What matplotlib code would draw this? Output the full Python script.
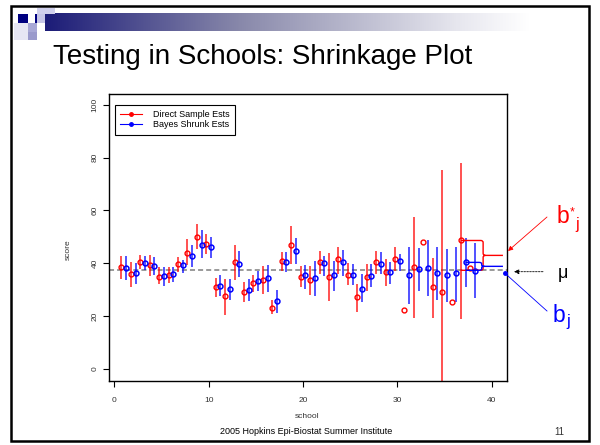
import matplotlib
matplotlib.use("Agg")
import matplotlib.pyplot as plt
import numpy as np
from matplotlib.patches import Rectangle, PathPatch
from matplotlib.path import Path
from matplotlib.lines import Line2D
from matplotlib.colors import LinearSegmentedColormap

plt.rcParams["font.family"] = ["Liberation Sans", "DejaVu Sans"]

# ---- data ----
school = np.arange(1, 39)
direct_est = [38.7, 36.0, 40.3, 39.3, 34.9, 35.7, 39.7, 43.9, 50.1, 47.3,
              30.8, 27.4, 40.3, 28.9, 32.6, 33.7, 23.2, 40.8, 46.7, 34.7,
              33.6, 40.6, 34.9, 41.5, 35.6, 27.2, 34.6, 40.3, 36.5, 41.5,
              22.3, 38.4, 47.9, 30.8, 28.9, 25.3, 48.6, 38.0]
direct_lo = [34.0, 31.0, 37.8, 35.2, 32.1, 32.3, 36.5, 39.3, 45.4, 43.5,
             27.2, 20.2, 33.7, 25.4, 29.1, 28.3, 20.6, 37.1, 39.7, 30.8,
             28.0, 35.9, 25.5, 35.9, 31.7, 21.6, 29.5, 35.9, 31.4, 37.1,
             np.nan, 19.1, np.nan, 19.4, -17.4, np.nan, 18.7, np.nan]
direct_hi = [42.9, 40.3, 43.0, 43.1, 38.4, 38.4, 42.5, 49.0, 54.9, 50.9,
             34.4, 34.0, 46.9, 32.7, 35.5, 39.0, 26.0, 44.1, 54.0, 38.8,
             39.0, 44.8, 43.9, 46.0, 39.9, 32.1, 39.7, 44.8, 41.6, 46.0,
             np.nan, 57.4, np.nan, 42.0, 75.2, np.nan, 78.0, np.nan]
bayes_est = [38.3, 36.1, 40.2, 39.0, 35.1, 35.9, 39.4, 42.7, 47.0, 46.0,
             31.5, 30.2, 39.5, 30.0, 33.1, 34.4, 25.5, 40.3, 44.6, 35.4,
             34.2, 40.2, 35.5, 40.3, 35.6, 30.4, 35.1, 39.8, 36.8, 41.0,
             35.6, 37.8, 38.2, 36.1, 35.6, 36.1, 40.3, 36.9]
bayes_lo = [33.6, 32.1, 37.5, 35.5, 31.4, 33.0, 36.3, 38.4, 42.0, 41.8,
            27.6, 26.0, 34.9, 25.7, 29.5, 29.1, 21.3, 36.5, 39.7, 30.4,
            27.6, 35.2, 29.5, 35.2, 31.8, 25.1, 30.8, 35.9, 32.1, 37.1,
            24.7, 29.3, 27.5, 26.0, 25.1, 25.4, 30.8, 26.7]
bayes_hi = [42.9, 39.9, 42.6, 42.2, 38.4, 38.4, 41.2, 47.0, 52.4, 49.8,
            35.5, 34.0, 44.5, 34.0, 37.1, 39.3, 29.8, 44.1, 49.6, 39.4,
            41.0, 42.9, 41.0, 45.1, 39.7, 35.9, 39.7, 44.1, 40.3, 43.5,
            46.0, 45.8, 48.8, 46.0, 45.4, 46.3, 49.6, 47.5]
grand_mean = 37.3
series_labels = ["Direct Sample Ests", "Bayes Shrunk Ests"]

W, H = 600, 445


def fx(x):
    return x / W


def fy(y):
    return 1 - y / H


fig = plt.figure(figsize=(6, 4.45), dpi=100)

# ---- slide decoration ----
deco = fig.add_axes([0, 0, 1, 1], zorder=-5)
grad = LinearSegmentedColormap.from_list(
    "g", [(0, "#1c1c78"), (0.4, "#8888aa"), (0.85, "#e6e6ee"), (1, "#ffffff")])
deco.imshow(np.linspace(0, 1, 256)[None, :], cmap=grad, aspect="auto",
            extent=(45, 530, 31, 13))
for (x0, y0, w, h, c) in [(14, 23, 14, 17, "#e6e6f4"), (37, 8, 18, 6, "#d0d0ec"),
                          (37, 14, 8, 9, "#c6c6e6"), (28, 23, 9, 9, "#a8a8d6"),
                          (28, 32, 9, 8, "#9a9acc"), (18, 14, 10, 9, "#000080"),
                          (35, 14, 2, 9, "#000080")]:
    deco.add_patch(Rectangle((x0, y0), w, h, color=c, lw=0))
deco.add_patch(Rectangle((11.3, 6.2), 578, 435, fill=False, ec="black", lw=1.8))
deco.set_xlim(0, W)
deco.set_ylim(H, 0)
deco.axis("off")

fig.text(fx(53), fy(64), "Testing in Schools: Shrinkage Plot", fontsize=20,
         ha="left", va="baseline")
fig.text(fx(306), fy(432), "2005 Hopkins Epi-Biostat Summer Institute",
         fontsize=6.5, ha="center", va="center")
fig.text(fx(559), fy(432), "11", fontsize=7, ha="center", va="center", color="#333333")

# ---- the plot ----
ax = fig.add_axes([fx(109.2), fy(380.6), (506.7 - 109.2) / W, (380.6 - 94.3) / H])
x_red = school - 0.25
x_blue = school + 0.25

ax.axhline(grand_mean, color="#7f7f7f", lw=1.1, ls=(0, (3.3, 2)), zorder=1)
ax.vlines(x_red, direct_lo, direct_hi, color="#ff0000", lw=1.2, alpha=0.8, zorder=2)
ax.vlines(x_blue, bayes_lo, bayes_hi, color="#0000ff", lw=1.2, alpha=0.8, zorder=2)
ax.plot(x_red, direct_est, "o", mfc="none", mec="#ff0000", ms=3.5, mew=1.0, zorder=3)
ax.plot(x_blue, bayes_est, "o", mfc="none", mec="#0000ff", ms=3.5, mew=1.1, zorder=3)


def brace(x0, xv, xt, ytop, ybot, rx, ry, color):
    ymid = (ytop + ybot) / 2
    verts = [(x0, ytop), (xv - rx, ytop), (xv, ytop), (xv, ytop - ry),
             (xv, ymid + ry), (xv, ymid), (xv + rx, ymid), (xt, ymid),
             (x0, ybot), (xv - rx, ybot), (xv, ybot), (xv, ybot + ry),
             (xv, ymid - ry), (xv, ymid), (xv + rx, ymid)]
    codes = [Path.MOVETO, Path.LINETO, Path.CURVE3, Path.CURVE3,
             Path.LINETO, Path.CURVE3, Path.CURVE3, Path.LINETO,
             Path.MOVETO, Path.LINETO, Path.CURVE3, Path.CURVE3,
             Path.LINETO, Path.CURVE3, Path.CURVE3]
    ax.add_patch(PathPatch(Path(verts, codes), fill=False, ec=color, lw=1.0, zorder=4))


brace(x_red[36], 39.1, 41.2, direct_est[36], grand_mean, 0.25, 0.8, "#ff0000")
brace(x_blue[36], 38.95, 41.2, bayes_est[36], grand_mean, 0.3, 0.5, "#0000ff")

ax.set_xlim(-0.55, 41.6)
ax.set_ylim(-4.5, 104)
ax.set_xticks([0, 10, 20, 30, 40])
ax.set_yticks([0, 20, 40, 60, 80, 100])
ax.set_yticklabels(["0", "20", "40", "60", "80", "100"], rotation=90, va="center")
ax.tick_params(direction="out", length=4.5, width=0.8, labelsize=6,
               labelcolor="#333333")
ax.tick_params(axis="x", pad=7)
ax.tick_params(axis="y", pad=3)
for s in ax.spines.values():
    s.set_linewidth(1.0)

fig.text(fx(307), fy(417), "school", fontsize=6, ha="center", va="center", color="#333333")
fig.text(fx(68), fy(250), "score", fontsize=6, ha="center", va="center",
         rotation=90, color="#333333")

handles = [Line2D([], [], color="#ff0000", marker="o", ms=2.5, lw=0.8),
           Line2D([], [], color="#0000ff", marker="o", ms=2.5, lw=0.8)]
leg = ax.legend(handles, series_labels, loc="upper left",
                bbox_to_anchor=((115 - 109.2) / 397.5, (380.6 - 105) / 286.3),
                borderaxespad=0, fontsize=6.5, fancybox=False, framealpha=1,
                edgecolor="black", handlelength=2.4, handletextpad=1.2,
                labelspacing=0.1, borderpad=0.6)
leg.get_frame().set_linewidth(0.8)

# ---- annotations to the right of the plot ----
ax.annotate("", xy=(fx(508), fy(251)), xycoords="figure fraction",
            xytext=(fx(547), fy(217)), textcoords="figure fraction",
            arrowprops=dict(arrowstyle="-|>", color="#ff0000", lw=0.6,
                            mutation_scale=7, shrinkA=0, shrinkB=0),
            annotation_clip=False)
ax.annotate("", xy=(fx(514), fy(271.7)), xycoords="figure fraction",
            xytext=(fx(543), fy(271.7)), textcoords="figure fraction",
            arrowprops=dict(arrowstyle="-|>", color="black", lw=0.6,
                            ls=(0, (2, 1.5)), mutation_scale=7,
                            shrinkA=0, shrinkB=0),
            annotation_clip=False)
fig.add_artist(Line2D([fx(547), fx(505)], [fy(311), fy(273.3)], color="#0000ff", lw=0.6))
fig.add_artist(Line2D([fx(505)], [fy(273.3)], color="#0000ff", marker="o", ms=2.5, lw=0))

# b*_j (red) and b_j (blue), built from plain glyphs
fig.text(fx(557), fy(223.3), "b", color="#ff0000", fontsize=16.5, ha="left", va="baseline")
fig.text(fx(569.5), fy(215), "*", color="#ff0000", fontsize=9, ha="left", va="baseline")
fig.text(fx(575.5), fy(229), "j", color="#ff0000", fontsize=11.5, ha="left", va="baseline")
fig.text(fx(558), fy(278), "\u03bc", color="black", fontsize=13,
         ha="left", va="baseline")
fig.text(fx(553), fy(321.7), "b", color="#0000ff", fontsize=16.5, ha="left", va="baseline")
fig.text(fx(566), fy(326), "j", color="#0000ff", fontsize=12, ha="left", va="baseline")

fig.savefig("out.png", dpi=100)
